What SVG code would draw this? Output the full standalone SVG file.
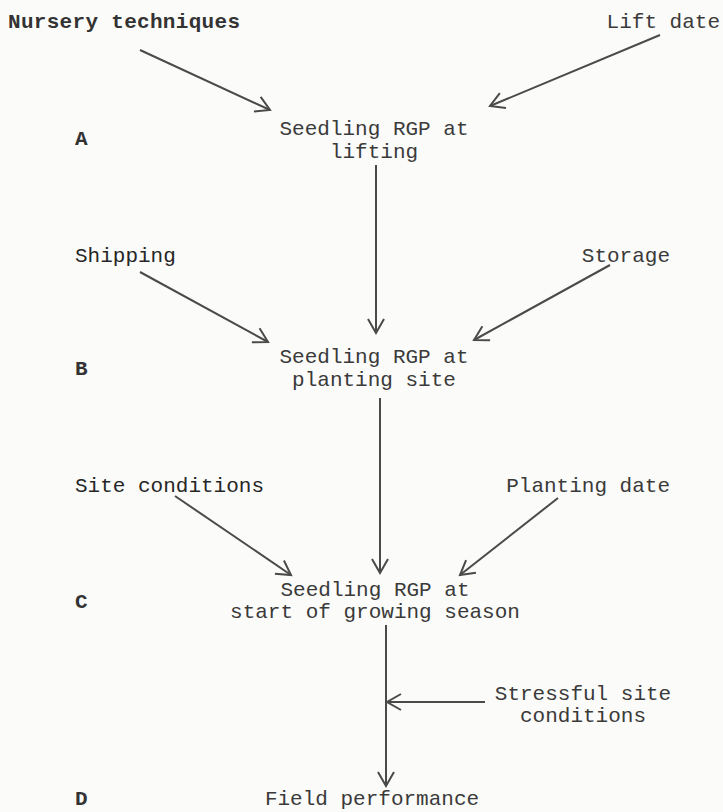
<svg xmlns="http://www.w3.org/2000/svg" width="723" height="812" viewBox="0 0 723 812">
<style>
text{font-family:"Liberation Mono","Courier New",monospace;font-size:21px;fill:#3a3a3a}
.b{font-weight:bold;fill:#333}
.d{fill:#262626}
.c{text-anchor:middle}
.e{text-anchor:end}
.l{stroke:#4a4a4a;stroke-width:2;fill:none}
</style>
<defs>
<marker id="ah" markerWidth="24" markerHeight="24" refX="20" refY="12" orient="auto" markerUnits="userSpaceOnUse">
<path d="M6,4 L20,12 L6,20" fill="none" stroke="#4a4a4a" stroke-width="2"/>
</marker>
</defs>
<rect width="723" height="812" fill="#fbfbf9"/>
<g id="connectors">
<line class="l" x1="140" y1="50" x2="270" y2="110" marker-end="url(#ah)"/>
<line class="l" x1="660" y1="35" x2="490" y2="106" marker-end="url(#ah)"/>
<line class="l" x1="376" y1="165" x2="376" y2="333" marker-end="url(#ah)"/>
<line class="l" x1="140" y1="272" x2="268" y2="342" marker-end="url(#ah)"/>
<line class="l" x1="610" y1="265" x2="474" y2="340" marker-end="url(#ah)"/>
<line class="l" x1="380" y1="398" x2="380" y2="573" marker-end="url(#ah)"/>
<line class="l" x1="175" y1="496" x2="291" y2="575" marker-end="url(#ah)"/>
<line class="l" x1="558" y1="498" x2="460" y2="575" marker-end="url(#ah)"/>
<line class="l" x1="386" y1="625" x2="386" y2="786" marker-end="url(#ah)"/>
<line class="l" x1="485" y1="702" x2="387" y2="702" marker-end="url(#ah)"/>
</g>
<g id="nursery"><text class="b" x="8" y="28" textLength="232">Nursery techniques</text></g>
<g id="liftdate"><text class="e" x="720" y="28">Lift date</text></g>
<g id="labelA"><text class="b" x="75" y="145">A</text></g>
<g id="nodeA"><text class="c" x="374" y="135">Seedling RGP at</text><text class="c" x="374" y="158">lifting</text></g>
<g id="shipping"><text class="d" x="75" y="262">Shipping</text></g>
<g id="storage"><text class="e" x="670" y="262">Storage</text></g>
<g id="labelB"><text class="b" x="75" y="375">B</text></g>
<g id="nodeB"><text class="c" x="374" y="363">Seedling RGP at</text><text class="c" x="374" y="386">planting site</text></g>
<g id="siteconditions"><text class="d" x="75" y="492">Site conditions</text></g>
<g id="plantingdate"><text class="e" x="670" y="492">Planting date</text></g>
<g id="labelC"><text class="b" x="75" y="608">C</text></g>
<g id="nodeC"><text class="c" x="375" y="596">Seedling RGP at</text><text class="c" x="375" y="618">start of growing season</text></g>
<g id="stressful"><text class="c" x="583" y="700">Stressful site</text><text class="c" x="583" y="722">conditions</text></g>
<g id="labelD"><text class="b" x="75" y="805">D</text></g>
<g id="nodeD"><text class="c" x="372" y="805">Field performance</text></g>
</svg>
